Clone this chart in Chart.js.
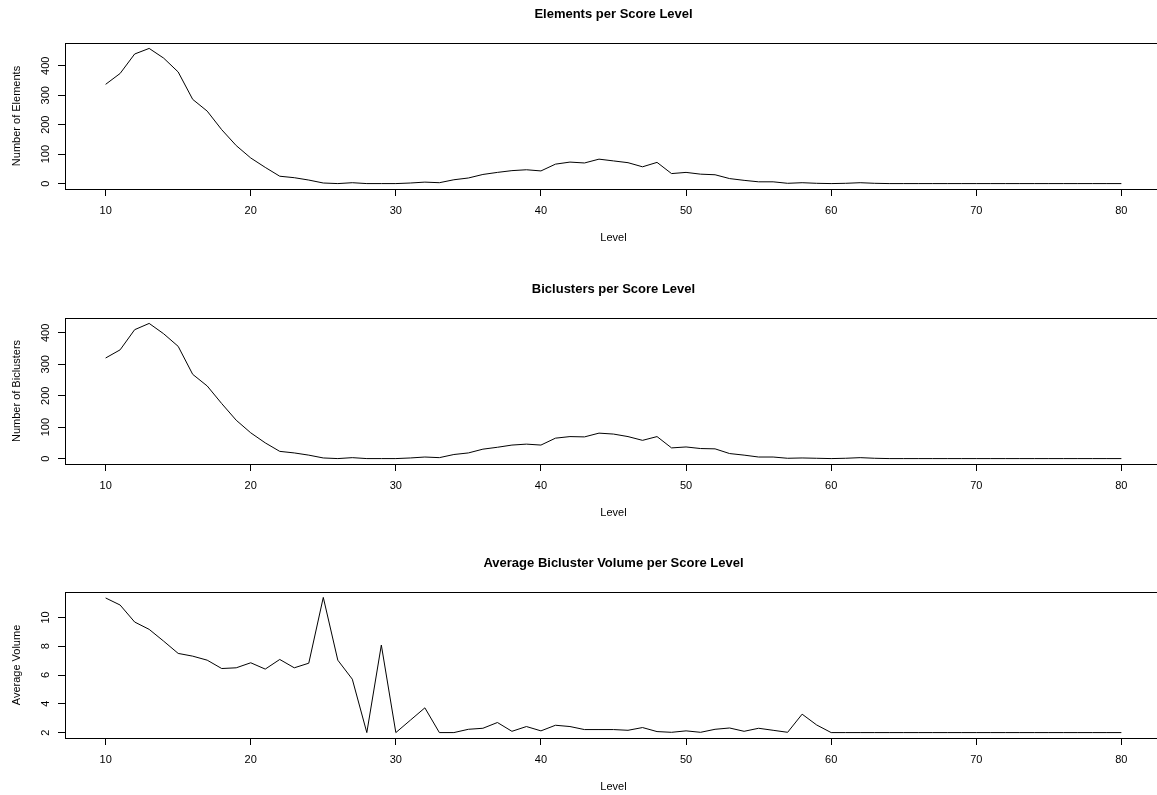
<!DOCTYPE html>
<html>
<head>
<meta charset="utf-8">
<script src="https://cdn.jsdelivr.net/npm/chart.js@4.4.0/dist/chart.umd.min.js"></script>
<style>
  html, body { margin: 0; padding: 0; background: #fff; overflow: hidden; width: 1157px; height: 795px; }
  canvas { position: absolute; left: 0; }
</style>
</head>
<body>
<canvas id="c1" width="1170" height="275" style="top:0px"></canvas>
<canvas id="c2" width="1170" height="275" style="top:275px"></canvas>
<canvas id="c3" width="1170" height="275" style="top:549px"></canvas>
<script>
// score levels 10..80
const levels = [10, 11, 12, 13, 14, 15, 16, 17, 18, 19, 20, 21, 22, 23, 24, 25, 26, 27, 28, 29,
  30, 31, 32, 33, 34, 35, 36, 37, 38, 39, 40, 41, 42, 43, 44, 45, 46, 47, 48, 49,
  50, 51, 52, 53, 54, 55, 56, 57, 58, 59, 60, 61, 62, 63, 64, 65, 66, 67, 68, 69,
  70, 71, 72, 73, 74, 75, 76, 77, 78, 79, 80];

const elements = [337, 374, 440, 459, 426, 379, 286, 246, 183, 129, 87, 55, 25, 20, 12, 2, 0, 3, 0, 0,
  0, 2, 5, 3, 13, 19, 31, 38, 44, 47, 43, 66, 73, 70, 83, 77, 71, 57, 72, 34,
  38, 32, 30, 17, 11, 6, 6, 1, 3, 1, 0, 1, 3, 1, 0, 0, 0, 0, 0, 0,
  0, 0, 0, 0, 0, 0, 0, 0, 0, 0, 0];

const biclusters = [320, 346, 410, 430, 397, 357, 268, 231, 175, 122, 82, 50, 23, 18, 11, 2, 0, 3, 0, 0,
  0, 2, 5, 3, 13, 18, 30, 36, 43, 46, 43, 65, 70, 69, 81, 78, 70, 58, 70, 34,
  37, 32, 31, 16, 11, 5, 5, 1, 2, 1, 0, 1, 3, 1, 0, 0, 0, 0, 0, 0,
  0, 0, 0, 0, 0, 0, 0, 0, 0, 0, 0];

const avgVolume = [11.35, 10.86, 9.68, 9.17, 8.35, 7.50, 7.31, 7.03, 6.45, 6.50, 6.85, 6.41, 7.08, 6.50, 6.82, 11.39, 7.03, 5.71, 2, 8.08,
  2, 2.86, 3.72, 2, 2, 2.23, 2.30, 2.70, 2.09, 2.42, 2.12, 2.51, 2.42, 2.21, 2.21, 2.21, 2.16, 2.35, 2.07, 2.02,
  2.12, 2.02, 2.23, 2.32, 2.09, 2.30, 2.16, 2.02, 3.28, 2.53, 2, 2, 2, 2, 2, 2, 2, 2, 2, 2,
  2, 2, 2, 2, 2, 2, 2, 2, 2, 2, 2];

const xTicks = [10, 20, 30, 40, 50, 60, 70, 80];
const countTicks = [0, 100, 200, 300, 400];
const volumeTicks = [2, 4, 6, 8, 10];

const FONT = '"Liberation Sans", Arial, Helvetica, sans-serif';

// box around the plot region + rotated y tick labels, like base R graphics
const rFrame = {
  id: 'rFrame',
  afterDraw(chart) {
    const { ctx, chartArea: a } = chart;
    const y = chart.scales.y;
    ctx.save();
    ctx.strokeStyle = '#000';
    ctx.lineWidth = 1;
    ctx.strokeRect(Math.round(a.left) + 0.5, Math.round(a.top) + 0.5,
      Math.round(a.right - a.left), Math.round(a.bottom - a.top));
    ctx.fillStyle = '#000';
    ctx.font = '11px ' + FONT;
    ctx.textAlign = 'center';
    ctx.textBaseline = 'alphabetic';
    y.ticks.forEach(t => {
      ctx.save();
      ctx.translate(a.left - 16, y.getPixelForValue(t.value));
      ctx.rotate(-Math.PI / 2);
      ctx.fillText(String(t.value), 0, 0);
      ctx.restore();
    });
    ctx.restore();
  }
};

function rRange(vals) {
  const lo = Math.min(...vals), hi = Math.max(...vals);
  const pad = (hi - lo) * 0.04;
  return { min: lo - pad, max: hi + pad };
}

function makePanel(id, title, yLabel, series, yTicks) {
  const xr = rRange(levels);
  const yr = rRange(series);
  new Chart(document.getElementById(id), {
    type: 'line',
    data: {
      datasets: [{
        data: levels.map((l, i) => ({ x: l, y: series[i] })),
        borderColor: '#000',
        borderWidth: 1,
        pointRadius: 0,
        tension: 0,
        fill: false
      }]
    },
    options: {
      responsive: false,
      animation: false,
      devicePixelRatio: 1,
      layout: { padding: { top: 0, left: 0, right: 8, bottom: 0 } },
      plugins: {
        legend: { display: false },
        tooltip: { enabled: false },
        title: {
          display: true,
          text: title,
          fullSize: false,
          color: '#000',
          font: { family: FONT, size: 13, weight: 'bold', lineHeight: 1.2 },
          padding: { top: 7, bottom: 20.4 }
        }
      },
      scales: {
        x: {
          type: 'linear',
          min: xr.min,
          max: xr.max,
          afterBuildTicks: s => { s.ticks = xTicks.map(v => ({ value: v })); },
          afterFit: s => { s.height = 86; },
          border: { display: false },
          grid: { drawOnChartArea: false, drawTicks: true, tickLength: 7, color: '#000', lineWidth: 1 },
          ticks: { color: '#000', font: { family: FONT, size: 11 }, padding: 8, maxRotation: 0, autoSkip: false },
          title: { display: true, text: 'Level', color: '#000', font: { family: FONT, size: 11, lineHeight: 1.2 }, padding: { top: 0, bottom: 30.4 } }
        },
        y: {
          type: 'linear',
          min: yr.min,
          max: yr.max,
          afterBuildTicks: s => { s.ticks = yTicks.map(v => ({ value: v })); },
          afterFit: s => { s.width = 65; },
          border: { display: false },
          grid: { drawOnChartArea: false, drawTicks: true, tickLength: 7, color: '#000', lineWidth: 1 },
          ticks: { display: false },
          title: { display: true, text: yLabel, color: '#000', font: { family: FONT, size: 11, lineHeight: 1.2 }, padding: { top: 10, bottom: 0 } }
        }
      }
    },
    plugins: [rFrame]
  });
}

makePanel('c1', 'Elements per Score Level', 'Number of Elements', elements, countTicks);
makePanel('c2', 'Biclusters per Score Level', 'Number of Biclusters', biclusters, countTicks);
makePanel('c3', 'Average Bicluster Volume per Score Level', 'Average Volume', avgVolume, volumeTicks);
</script>
</body>
</html>
